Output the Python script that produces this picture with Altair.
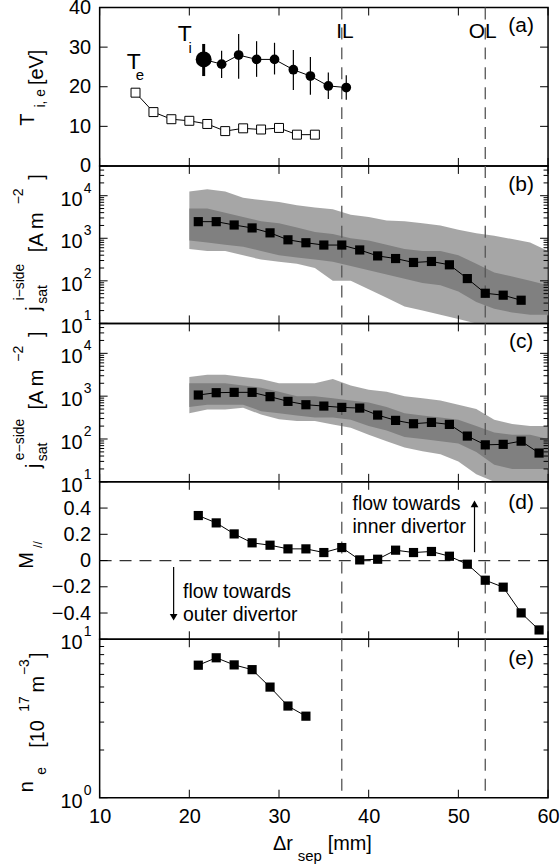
import altair as alt
import pandas as pd

FONT = "Liberation Sans"
W = 450
HA, HB, HC, HD, HE = 159, 158, 159, 158, 159
IL_POS, OL_POS = 37, 53
DASH = "#555555"
GRAY = "#808080"

x_ticks = [10, 20, 30, 40, 50, 60]

# ---------------- (a) temperatures ----------------
te_x = [14, 16, 18, 20, 22, 24, 26, 28, 30, 32, 34]
te_y = [18.5, 13.6, 11.8, 11.4, 10.6, 8.8, 9.5, 9.2, 9.6, 7.9, 7.9]
ti_x = [21.6, 23.6, 25.5, 27.5, 29.5, 31.6, 33.5, 35.5, 37.5]
ti_y = [26.9, 25.7, 28.0, 26.9, 26.9, 24.3, 22.7, 20.2, 19.8]
ti_lo = [22.7, 22.2, 22.0, 22.5, 23.1, 19.2, 18.0, 16.9, 16.7]
ti_hi = [30.8, 29.1, 33.3, 31.5, 31.1, 29.3, 27.5, 23.6, 22.9]

# ---------------- (b) ion-side jsat ----------------
jb_x = [21, 23, 25, 27, 29, 31, 33, 35, 37, 39, 41, 43, 45, 47, 49, 51, 53, 55, 57]
jb_y = [2455, 2455, 2050, 1750, 1340, 920, 785, 693, 693, 531, 385, 334, 270, 285, 238, 113, 51, 46, 35]

# raw-signal cloud envelopes (sampled every 2 mm)
band_x = [20, 22, 24, 26, 28, 30, 32, 34, 36, 38, 40, 42, 44, 46, 48, 50, 52, 54, 56, 58, 60]
jb_out_hi = [12600, 14100, 12600, 8900, 7900, 7100, 6000, 5250, 4800, 3550, 3160,
             2630, 2510, 2240, 2000, 1580, 1320, 1150, 955, 794, 501]
jb_out_lo = [562, 501, 501, 398, 316, 282, 251, 200, 100, 100, 63,
             40, 25, 20, 16, 12.6, 10, 10, 10, 10, 10]
jb_core_hi = [5010, 5010, 3980, 3160, 2510, 2240, 1780, 1410, 1260, 1000, 891,
              708, 562, 501, 501, 398, 251, 158, 126, 100, 79]
jb_core_lo = [891, 794, 708, 631, 501, 398, 355, 316, 282, 224, 178,
              141, 112, 89, 79, 56, 32, 22, 18, 16, 16]

# ---------------- (c) electron-side jsat ----------------
jc_x = [21, 23, 25, 27, 29, 31, 33, 35, 37, 39, 41, 43, 45, 47, 49, 51, 53, 55, 57, 59]
jc_y = [1063, 1205, 1227, 1227, 973, 756, 631, 587, 547, 527, 362, 272, 227, 244, 219, 117, 73, 75, 89, 47]
jc_out_hi = [2820, 3160, 3160, 2820, 2510, 2000, 2000, 2000, 2510, 1780, 1410,
             1260, 1000, 891, 794, 631, 501, 282, 224, 200, 200]
jc_out_lo = [398, 490, 490, 537, 372, 288, 263, 263, 219, 182, 126,
             89, 63, 52, 44, 30, 15, 10, 10, 10, 10]
jc_core_hi = [2000, 2000, 2000, 1780, 1580, 1260, 1000, 1000, 891, 794, 708,
              562, 398, 355, 316, 282, 200, 141, 126, 126, 100]
jc_core_lo = [562, 631, 631, 631, 447, 398, 355, 316, 316, 282, 200,
              158, 112, 100, 89, 79, 50, 25, 20, 20, 20]

# ---------------- (d) Mach number ----------------
m_x = [21, 23, 25, 27, 29, 31, 33, 35, 37, 39, 41, 43, 45, 47, 49, 51, 53, 55, 57, 59]
m_y = [0.343, 0.287, 0.203, 0.135, 0.117, 0.089, 0.089, 0.061, 0.099, 0.005,
       0.010, 0.079, 0.061, 0.069, 0.033, -0.028, -0.150, -0.203, -0.399, -0.529]

# ---------------- (e) density ----------------
ne_x = [21, 23, 25, 27, 29, 31, 33]
ne_y = [6.86, 7.64, 6.89, 6.43, 4.99, 3.79, 3.27]

a_ticks = [0, 10, 20, 30, 40]
d_ticks = [-0.4, -0.2, 0, 0.2, 0.4]
j_decades = [1, 2, 3, 4]
j_minor = [m * 10 ** e for e in [1, 2, 3] for m in range(2, 10)] + [20000, 30000, 40000]
e_decades = [0, 1]
e_minor = [2, 3, 4, 5, 6, 7, 8, 9]

xs = alt.Scale(domain=[10, 60], nice=False, zero=False)
ONE = pd.DataFrame({"k": [0]})


def px(v):
    return (v - 10) * W / 50.0


def xenc(field, axis=None):
    return alt.X(field, type="quantitative", scale=xs, axis=axis)


def yenc(field, ys, axis=None):
    return alt.Y(field, type="quantitative", scale=ys, axis=axis)


def txt(s, x, y, size, angle=0, align="center", baseline="alphabetic"):
    kw = dict(text=s, fontSize=size, font=FONT, color="black", align=align, baseline=baseline)
    enc = dict(x=alt.value(x), y=alt.value(y))
    if angle:
        kw["angle"] = angle
        enc["angle"] = alt.value(angle)
    return alt.Chart(ONE).mark_text(**kw).encode(**enc)


def frame_layers(h, ys, yaxis, xaxis, ymaj, ymin=None):
    L = []
    L.append(alt.Chart(pd.DataFrame({"x": [IL_POS, OL_POS]})).mark_rule(
        color=DASH, strokeWidth=1.3, strokeDash=[12, 8]).encode(x=xenc("x", xaxis)))
    xt = pd.DataFrame({"x": x_ticks})
    L.append(alt.Chart(xt).mark_rule(color="black", strokeWidth=1).encode(
        x=xenc("x", xaxis), y=alt.value(0), y2=alt.value(8)))
    L.append(alt.Chart(xt).mark_rule(color="black", strokeWidth=1).encode(
        x=xenc("x", xaxis), y=alt.value(h - 8), y2=alt.value(h)))
    yt = pd.DataFrame({"y": ymaj})
    L.append(alt.Chart(yt).mark_rule(color="black", strokeWidth=1).encode(
        y=yenc("y", ys, yaxis), x=alt.value(0), x2=alt.value(8)))
    L.append(alt.Chart(yt).mark_rule(color="black", strokeWidth=1).encode(
        y=yenc("y", ys, yaxis), x=alt.value(W - 8), x2=alt.value(W)))
    if ymin:
        ym = pd.DataFrame({"y": ymin})
        L.append(alt.Chart(ym).mark_rule(color="black", strokeWidth=1).encode(
            y=yenc("y", ys, yaxis), x=alt.value(0), x2=alt.value(4.5)))
        L.append(alt.Chart(ym).mark_rule(color="black", strokeWidth=1).encode(
            y=yenc("y", ys, yaxis), x=alt.value(W - 4.5), x2=alt.value(W)))
    return L


def log_labels(decades, ys):
    df = pd.DataFrame({"v": [10.0 ** e for e in decades], "e": [str(e) for e in decades]})
    base = alt.Chart(df).mark_text(text="10", fontSize=20, font=FONT, color="black",
                                   align="right", baseline="middle", dy=4).encode(
        x=alt.value(-17), y=yenc("v", ys))
    sup = alt.Chart(df).mark_text(fontSize=14, font=FONT, color="black",
                                  align="left", baseline="middle", dy=-7).encode(
        x=alt.value(-16), y=yenc("v", ys), text="e:N")
    return [base, sup]


def lin_axis(vals, expr=None):
    kw = dict(values=vals, ticks=False, tickSize=0, domain=False, grid=False, labelPadding=9,
              labelFontSize=20, labelFont=FONT, labelColor="black", labelFlush=False,
              labelOverlap=False, title=None)
    if expr:
        kw["labelExpr"] = expr
    return alt.Axis(**kw)


# ================= panel (a) =================
ys_a = alt.Scale(domain=[0, 40], nice=False, zero=False)
ax_a = lin_axis(a_ticks)
te_df = pd.DataFrame({"x": te_x, "y": te_y})
ti_df = pd.DataFrame({"x": ti_x, "y": ti_y, "lo": ti_lo, "hi": ti_hi, "i": list(range(len(ti_x)))})


def pa(v):
    return HA * (1 - v / 40.0)


layers_a = frame_layers(HA, ys_a, ax_a, None, a_ticks)
layers_a += [
    alt.Chart(te_df).mark_line(color="black", strokeWidth=1).encode(x=xenc("x"), y=yenc("y", ys_a, ax_a)),
    alt.Chart(te_df).mark_point(shape="square", size=81, fill="white", stroke="black",
                                strokeWidth=1, opacity=1).encode(x=xenc("x"), y=yenc("y", ys_a, ax_a)),
    alt.Chart(ti_df).transform_filter("datum.i > 0").mark_rule(color="black", strokeWidth=1.2).encode(
        x=xenc("x"), y=yenc("lo", ys_a, ax_a), y2="hi:Q"),
    alt.Chart(ti_df).transform_filter("datum.i == 0").mark_rule(color="black", strokeWidth=3).encode(
        x=xenc("x"), y=yenc("lo", ys_a, ax_a), y2="hi:Q"),
    alt.Chart(ti_df).mark_line(color="black", strokeWidth=1).encode(x=xenc("x"), y=yenc("y", ys_a, ax_a)),
    alt.Chart(ti_df).transform_filter("datum.i > 0").mark_circle(size=95, color="black", opacity=1).encode(
        x=xenc("x"), y=yenc("y", ys_a, ax_a)),
    alt.Chart(ti_df).transform_filter("datum.i == 0").mark_circle(size=256, color="black", opacity=1).encode(
        x=xenc("x"), y=yenc("y", ys_a, ax_a)),
    txt("T", px(19.5), pa(31.6), 23),
    txt("i", px(20.1), pa(28.6), 15),
    txt("T", px(13.8), pa(24.6), 23),
    txt("e", px(14.5), pa(21.8), 15),
    txt("IL", px(37.35), pa(32.4), 21),
    txt("OL", px(52.7), pa(32.3), 21),
    txt("(a)", 423, 25, 21),
    # y title
    txt("T", -66, 112.5, 20, angle=270),
    txt("i, e", -55, 91, 14, angle=270),
    txt("[eV]", -57, 60, 20, angle=270),
    # left anchor (invisible)
    alt.Chart(ONE).mark_rule(opacity=0).encode(x=alt.value(-99), x2=alt.value(-98), y=alt.value(40)),
]
panel_a = alt.layer(*layers_a).properties(width=W, height=HA)


# ================= panels (b), (c) =================
def jsat_panel(h, xv, yv, out_lo, out_hi, core_lo, core_hi, side, letter):
    ys = alt.Scale(type="log", domain=[10, 50000], nice=False)
    bands = pd.DataFrame({"x": band_x, "olo": out_lo, "ohi": out_hi, "clo": core_lo, "chi": core_hi})
    pts = pd.DataFrame({"x": xv, "y": yv})
    L = [
        alt.Chart(bands).mark_area(color=GRAY, opacity=0.7).encode(
            x=xenc("x"), y=yenc("olo", ys), y2="ohi:Q"),
        alt.Chart(bands).mark_area(color=GRAY, opacity=1).encode(
            x=xenc("x"), y=yenc("clo", ys), y2="chi:Q"),
    ]
    L += frame_layers(h, ys, None, None, [10.0 ** e for e in j_decades], j_minor)
    L += [
        alt.Chart(pts).mark_line(color="black", strokeWidth=1).encode(x=xenc("x"), y=yenc("y", ys)),
        alt.Chart(pts).mark_point(shape="square", size=85, filled=True, color="black", opacity=1).encode(
            x=xenc("x"), y=yenc("y", ys)),
        txt(letter, 423, 25, 21),
        txt("j", -60, 143, 20, angle=270),
        txt(side, -76, 116.5, 14, angle=270),
        txt("sat", -53, 129, 14, angle=270),
        txt("[A m", -57, 66.5, 20, angle=270),
        txt("\u22122", -77, 30.5, 14, angle=270),
        txt("]", -57, 11, 20, angle=270),
    ]
    L += log_labels(j_decades, ys)
    return alt.layer(*L).properties(width=W, height=h)


panel_b = jsat_panel(HB, jb_x, jb_y, jb_out_lo, jb_out_hi, jb_core_lo, jb_core_hi, "i\u2212side", "(b)")
panel_c = jsat_panel(HC, jc_x, jc_y, jc_out_lo, jc_out_hi, jc_core_lo, jc_core_hi, "e\u2212side", "(c)")

# ================= panel (d) =================
ys_d = alt.Scale(domain=[-0.6, 0.6], nice=False, zero=False)
ax_d = lin_axis(d_ticks, "datum.value == 0 ? '0' : format(datum.value, '.1f')")
m_df = pd.DataFrame({"x": m_x, "y": m_y})


def pdd(v):
    return HD * (0.6 - v) / 1.2


layers_d = [
    alt.Chart(pd.DataFrame({"y": [0]})).mark_rule(color="#333333", strokeWidth=1.2, strokeDash=[12, 8]).encode(
        y=yenc("y", ys_d, ax_d), x=alt.value(0), x2=alt.value(W)),
]
layers_d += frame_layers(HD, ys_d, ax_d, None, d_ticks)
layers_d += [
    alt.Chart(m_df).mark_line(color="black", strokeWidth=1).encode(x=xenc("x"), y=yenc("y", ys_d, ax_d)),
    alt.Chart(m_df).mark_point(shape="square", size=85, filled=True, color="black", opacity=1).encode(
        x=xenc("x"), y=yenc("y", ys_d, ax_d)),
    txt("flow towards", px(38.2), pdd(0.432), 19.5, align="left", baseline="middle"),
    txt("inner divertor", px(38.2), pdd(0.254), 19.5, align="left", baseline="middle"),
    txt("flow towards", px(19.3), pdd(-0.241), 19.5, align="left", baseline="middle"),
    txt("outer divertor", px(19.3), pdd(-0.419), 19.5, align="left", baseline="middle"),
    alt.Chart(ONE).mark_rule(color="black", strokeWidth=1.2).encode(
        x=alt.value(px(51.8)), y=alt.value(pdd(0.064)), y2=alt.value(pdd(0.47) + 7)),
    alt.Chart(ONE).mark_point(shape="triangle-up", size=60, filled=True, color="black", opacity=1).encode(
        x=alt.value(px(51.8)), y=alt.value(pdd(0.47) + 5)),
    alt.Chart(ONE).mark_rule(color="black", strokeWidth=1.2).encode(
        x=alt.value(px(18.25)), y=alt.value(pdd(-0.05)), y2=alt.value(pdd(-0.47) - 7)),
    alt.Chart(ONE).mark_point(shape="triangle-down", size=60, filled=True, color="black", opacity=1).encode(
        x=alt.value(px(18.25)), y=alt.value(pdd(-0.47) - 5)),
    txt("(d)", 423, 27, 21),
    txt("M", -67, 79, 20, angle=270),
    txt("//", -58, 63, 12, angle=270),
]
panel_d = alt.layer(*layers_d).properties(width=W, height=HD)

# ================= panel (e) =================
ys_e = alt.Scale(type="log", domain=[1, 10], nice=False)
ax_x = alt.Axis(values=x_ticks, ticks=False, tickSize=0, domain=False, grid=False, labelPadding=9,
                labelFontSize=20, labelFont=FONT, labelColor="black", labelFlush=False,
                labelOverlap=False, title=None, format="d")
ne_df = pd.DataFrame({"x": ne_x, "y": ne_y})
layers_e = frame_layers(HE, ys_e, None, ax_x, [1, 10], e_minor)
layers_e += [
    alt.Chart(ne_df).mark_line(color="black", strokeWidth=1).encode(x=xenc("x", ax_x), y=yenc("y", ys_e)),
    alt.Chart(ne_df).mark_point(shape="square", size=85, filled=True, color="black", opacity=1).encode(
        x=xenc("x", ax_x), y=yenc("y", ys_e)),
    txt("(e)", 423, 26, 21),
    txt("n", -67, 148, 20, angle=270),
    txt("e", -54, 132, 14, angle=270),
    txt("[10", -56, 95, 20, angle=270),
    txt("17", -71, 65, 14, angle=270),
    txt("m", -56, 45, 20, angle=270),
    txt("\u22123", -71, 28, 14, angle=270),
    txt("]", -56, 16, 20, angle=270),
    # x title
    txt("\u0394r", 184, HE + 52, 20),
    txt("sep", 211, HE + 64, 15),
    txt("[mm]", 251, HE + 52, 20),
]
layers_e += log_labels(e_decades, ys_e)
panel_e = alt.layer(*layers_e).properties(width=W, height=HE)

chart = alt.vconcat(panel_a, panel_b, panel_c, panel_d, panel_e, spacing=0, bounds="flush").properties(
    padding={"left": 0, "top": -5, "right": 0, "bottom": 0}
).configure_view(stroke="black", strokeWidth=1.5).configure_axis(
    labelFont=FONT, labelFontSize=20, labelColor="black"
)

chart.save("out.html", embed_options={"renderer": "svg", "actions": False})
